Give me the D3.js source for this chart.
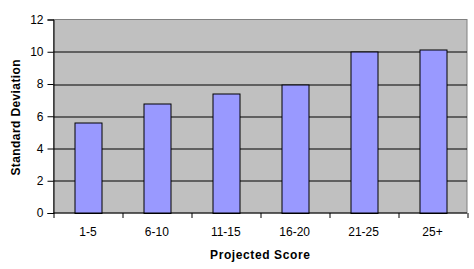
<!DOCTYPE html>
<html>
<head>
<meta charset="utf-8">
<script src="https://cdn.jsdelivr.net/npm/d3@7"></script>
<style>
  body { margin: 0; background: #fff; }
  text { font-family: "Liberation Sans", Arial, sans-serif; }
</style>
</head>
<body>
<svg id="chart" width="474" height="269"></svg>
<script>
const categories = ["1-5", "6-10", "11-15", "16-20", "21-25", "25+"];
const values = [5.63, 6.8, 7.43, 7.94, 9.99, 10.15];
const yTicks = [0, 2, 4, 6, 8, 10, 12];

const margin = { top: 19.5, left: 53.5, right: 7, bottom: 56 };
const svg = d3.select("#chart"),
  width = 474 - margin.left - margin.right,
  height = 269 - margin.top - margin.bottom;

const x = d3.scaleBand().domain(categories).range([0, width]).paddingInner(0.61).paddingOuter(0.305);
const y = d3.scaleLinear().domain([0, 12]).range([height, 0]);

const g = svg.append("g").attr("transform", `translate(${margin.left},${margin.top})`);

// plot background
g.append("rect")
  .attr("width", width).attr("height", height)
  .attr("fill", "#c0c0c0")
  .attr("stroke", "#808080");

// gridlines
g.selectAll(".grid")
  .data(yTicks.filter(d => d > 0 && d < 12))
  .enter().append("line")
  .attr("x1", 0).attr("x2", width)
  .attr("y1", d => Math.round(y(d)) + 0.5).attr("y2", d => Math.round(y(d)) + 0.5)
  .attr("stroke", "#000");

// bars
g.selectAll(".bar")
  .data(values)
  .enter().append("rect")
  .attr("x", (d, i) => Math.round(x(categories[i])) + 0.5)
  .attr("y", d => Math.round(y(d)) + 0.5)
  .attr("width", Math.round(x.bandwidth()))
  .attr("height", d => height - Math.round(y(d)))
  .attr("fill", "#9999ff")
  .attr("stroke", "#000");

// y axis
const yAxis = g.append("g")
  .call(d3.axisLeft(y).tickValues(yTicks).tickSize(6).tickPadding(4).tickFormat(d3.format("d")));
yAxis.select(".domain").attr("stroke", "#000");
yAxis.selectAll("text").attr("font-size", 12).attr("fill", "#000")
  .attr("font-family", "'Liberation Sans', Arial, sans-serif");

// x axis
const xEdge = d3.scaleLinear().domain([0, categories.length]).range([0, width]);
const xAxis = g.append("g").attr("transform", `translate(0,${height})`);
xAxis.append("line").attr("x1", 0).attr("x2", width).attr("stroke", "#000");
xAxis.selectAll(".tk")
  .data(d3.range(categories.length + 1))
  .enter().append("line")
  .attr("x1", d => Math.round(xEdge(d)) + 0.5).attr("x2", d => Math.round(xEdge(d)) + 0.5)
  .attr("y1", 0).attr("y2", 5)
  .attr("stroke", "#000");
xAxis.selectAll(".lbl")
  .data(categories)
  .enter().append("text")
  .attr("x", d => x(d) + x.bandwidth() / 2)
  .attr("y", 23)
  .attr("text-anchor", "middle")
  .attr("font-size", 12)
  .text(d => d);

// axis titles
svg.append("text")
  .attr("x", margin.left + width / 2)
  .attr("y", 259)
  .attr("text-anchor", "middle")
  .attr("font-size", 12).attr("font-weight", "bold")
  .attr("letter-spacing", 0.6)
  .text("Projected Score");

svg.append("text")
  .attr("transform", `translate(20,${margin.top + height / 2 + 1}) rotate(-90)`)
  .attr("text-anchor", "middle")
  .attr("font-size", 12).attr("font-weight", "bold")
  .attr("letter-spacing", 0.4)
  .text("Standard Deviation");
</script>
</body>
</html>
